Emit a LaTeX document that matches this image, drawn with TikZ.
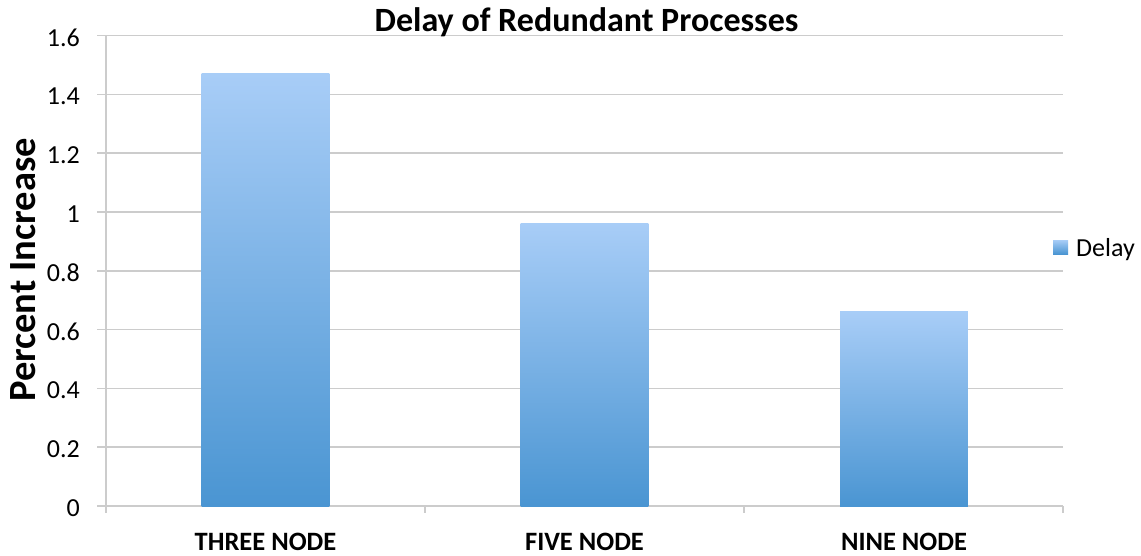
\documentclass[tikz,border=0pt]{standalone}
\usepackage{fontspec}
\setmainfont{Carlito}
\definecolor{gridgray}{RGB}{204,204,204}
\definecolor{barlight}{RGB}{168,205,247}
\definecolor{bardark}{RGB}{74,149,210}
\tikzset{
  gridline/.style={draw=gridgray, line width=1.5pt},
  bar/.style={top color=barlight, bottom color=bardark, draw=none},
  ticklabel/.style={anchor=base east, inner sep=0pt, font=\fontsize{26}{30}\selectfont},
  catlabel/.style={anchor=base, inner sep=0pt, font=\fontsize{26.5}{30}\selectfont\bfseries},
}
\begin{document}
\begin{tikzpicture}[x=1pt,y=-1pt]
\useasboundingbox[fill=white] (0,0) rectangle (1141,555);
% value axis: 0 at y=506, 294 units per 1.0
\def\yz{506}
\def\ys{294}
% horizontal grid lines and tick labels
\foreach \v/\t in {0/0,0.2/0.2,0.4/0.4,0.6/0.6,0.8/0.8,1/1,1.2/1.2,1.4/1.4,1.6/1.6}{
  \draw[gridline] (97,{\yz-\v*\ys}) -- (1063,{\yz-\v*\ys});
  \node[ticklabel] at (80,{\yz-\v*\ys+10.5}) {\t};
}
% vertical axis and category ticks
\draw[gridline] (106,{\yz-1.6*\ys}) -- (106,513);
\foreach \x in {425,744,1063}{
  \draw[gridline] (\x,\yz) -- (\x,513);
}
% bars
\foreach \c/\v in {265.5/1.47,584.5/0.962,904/0.66}{
  \shade[bar] (\c-63.8,{\yz-\v*\ys}) rectangle (\c+63.8,\yz);
}
% category labels
\node[catlabel] (three) at (265.5,550.5) {THREE NODE};
\node[catlabel] (five) at (584.5,550.5) {FIVE NODE};
\node[catlabel] (nine) at (904,550.5) {NINE NODE};
% title
\node[anchor=base, inner sep=0pt, font=\fontsize{34}{40}\selectfont\bfseries] (title) at (586.5,31.7) {Delay of Redundant Processes};
% axis title
\node[anchor=base, rotate=90, inner sep=0pt, font=\fontsize{38.5}{44}\selectfont\bfseries] (ylabel) at (35,270) {Percent Increase};
% legend
\shade[bar] (1053,240) rectangle (1068,254);
\node[anchor=base west, inner sep=0pt, font=\fontsize{26}{30}\selectfont] (legend) at (1076,256.7) {Delay};
\end{tikzpicture}
\end{document}
